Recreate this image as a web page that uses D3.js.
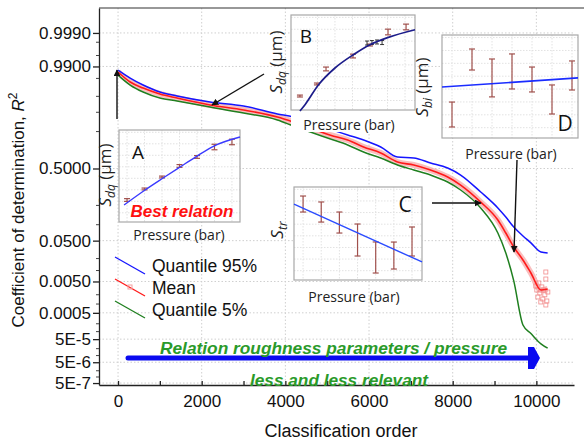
<!DOCTYPE html>
<html>
<head>
<meta charset="utf-8">
<script src="https://cdn.jsdelivr.net/npm/d3@7"></script>
<style>
  body { margin: 0; background: #fff; }
  svg { display: block; }
</style>
</head>
<body>
<div id="chart"></div>
<script>
// main chart: R2 vs classification order (probit scale on y)
var orders = [0, 290, 600, 1000, 1410, 2200, 3000, 3810, 4190, 4600, 5080, 5490, 5870, 6280, 6680, 7070, 7470, 7880, 8190, 8670, 9080, 9270, 9460, 9680, 9870, 10110, 10270];
var q95 = [0.9876, 0.9804, 0.9715, 0.9594, 0.9508, 0.9353, 0.9229, 0.8931, 0.8798, 0.850, 0.813, 0.778, 0.742, 0.688, 0.603, 0.595, 0.550, 0.504, 0.441, 0.296, 0.184, 0.134, 0.091, 0.062, 0.045, 0.0285, 0.027];
var meanR2 = [0.9861, 0.9757, 0.9667, 0.9553, 0.946, 0.9262, 0.9089, 0.8798, 0.8554, 0.822, 0.776, 0.742, 0.688, 0.638, 0.559, 0.532, 0.486, 0.423, 0.353, 0.222, 0.120, 0.0707, 0.0367, 0.0185, 0.0086, 0.0028, 0.0030];
var q05 = [0.9834, 0.9715, 0.9594, 0.946, 0.9381, 0.9195, 0.897, 0.8656, 0.834, 0.797, 0.7495, 0.704, 0.6466, 0.5945, 0.532, 0.486, 0.441, 0.379, 0.312, 0.184, 0.0707, 0.027, 0.0052, 0.00018, 8.4e-5, 3.2e-5, 2.1e-5];
// scattered mean markers at the tail
var tailOrder = [10227, 10227, 10059, 10131, 10011, 10083, 10203, 10035, 10155, 10251, 10107, 10227, 9987, 10179, 10275];
var tailR2 = [0.00914, 0.00587, 0.00453, 0.00347, 0.0028, 0.00226, 0.00199, 0.0017, 0.00146, 0.00126, 0.00117, 0.00093, 0.0037, 0.0028, 0.00243];

var xTicks = [0, 2000, 4000, 6000, 8000, 10000];
var yTicks = [0.999, 0.99, 0.5, 0.05, 0.005, 0.0005, 5e-5, 5e-6, 5e-7];
var yTickLabels = ["0.9990", "0.9900", "0.5000", "0.0500", "0.0050", "0.0005", "5E-5", "5E-6", "5E-7"];
var yMinor = [0.998, 0.995, 0.98, 0.95, 0.9, 0.8, 0.2, 0.1, 0.02, 0.01, 0.002, 0.001, 2e-4, 1e-4, 2e-5, 1e-5, 2e-6, 1e-6];

// insets: S parameter vs pressure (arbitrary units 0-10)
var pressA = [1, 2, 3, 4, 5, 6, 7];
var sdqA = [2.39, 3.59, 4.89, 6.09, 7.07, 8.15, 8.70];
var errA = [0.15, 0.1, 0.1, 0.15, 0.15, 0.3, 0.3];
var fitPA = [0.83, 2.03, 3.06, 4.03, 5.0, 5.97, 7.46];
var fitVA = [1.85, 3.48, 4.78, 5.98, 7.17, 8.26, 9.24];

var pressB = [1, 1.97, 2.49, 4.03, 5, 6.03, 7.06];
var sdqB = [1.47, 2.74, 4.32, 5.68, 6.84, 8.21, 8.74];
var errB = [0.1, 0.1, 0.2, 0.2, 0.1, 0.3, 0.3];
var fitPB = [1.0, 1.29, 2.05, 3.0, 4.05, 5.0, 6.05, 7.57];
var fitVB = [-0.1, 0.56, 2.63, 4.42, 5.82, 6.87, 7.65, 8.45];
var clusterPB = [4.83, 5.11, 5.4, 5.69];
var clusterVB = [7.05, 7.1, 7.16, 7.1];

var pressC = [1, 2, 3, 4, 5, 6, 7];
var strC = [8.17, 7.31, 6.18, 4.30, 2.42, 2.63, 4.14];
var errC = [0.86, 1.08, 1.13, 1.72, 1.67, 1.45, 1.56];
var fitPC = [0.5, 7.55];
var fitVC = [8.17, 1.94];

var pressD = [1, 2, 3, 4, 5, 6, 7];
var sbiD = [2.28, 7.62, 5.83, 6.46, 5.68, 3.74, 6.07];
var errD = [1.21, 1.02, 1.84, 1.70, 1.21, 1.41, 1.41];
var fitPD = [0.5, 7.3];
var fitVD = [4.95, 5.83];

// inverse normal cdf (Acklam)
function probit(p) {
	var a = [-3.969683028665376e+01, 2.209460984245205e+02, -2.759285104469687e+02, 1.383577518672690e+02, -3.066479806614716e+01, 2.506628277459239e+00];
	var b = [-5.447609879822406e+01, 1.615858368580409e+02, -1.556989798598866e+02, 6.680131188771972e+01, -1.328068155288572e+01];
	var c = [-7.784894002430293e-03, -3.223964580411365e-01, -2.400758277161838e+00, -2.549732539343734e+00, 4.374664141464968e+00, 2.938163982698783e+00];
	var d = [7.784695709041462e-03, 3.224671290700398e-01, 2.445134137142996e+00, 3.754408661907416e+00];
	var pl = 0.02425, q, r;
	if (p < pl) {
		q = Math.sqrt(-2 * Math.log(p));
		return (((((c[0]*q+c[1])*q+c[2])*q+c[3])*q+c[4])*q+c[5]) / ((((d[0]*q+d[1])*q+d[2])*q+d[3])*q+1);
	}
	if (p <= 1 - pl) {
		q = p - 0.5; r = q * q;
		return (((((a[0]*r+a[1])*r+a[2])*r+a[3])*r+a[4])*r+a[5])*q / (((((b[0]*r+b[1])*r+b[2])*r+b[3])*r+b[4])*r+1);
	}
	q = Math.sqrt(-2 * Math.log(1 - p));
	return -(((((c[0]*q+c[1])*q+c[2])*q+c[3])*q+c[4])*q+c[5]) / ((((d[0]*q+d[1])*q+d[2])*q+d[3])*q+1);
}

var W = 584, H = 443;
var pLeft = 99, pRight = 574, pTop = 8, pBottom = 385;
var mainFont = "'Liberation Sans', Arial, sans-serif";
var insetFont = "'Open Sans', sans-serif";

var svg = d3.select("#chart").append("svg").attr("width", W).attr("height", H);

var x = d3.scaleLinear().domain([-455, 10900]).range([pLeft, pRight]);
var yz = d3.scaleLinear().domain([-4.936, 3.659]).range([pBottom, pTop]);
var y = function (p) { return yz(probit(p)); };

// grid
var grid = svg.append("g").attr("stroke", "#cfcfcf").attr("stroke-dasharray", "1.5,2");
grid.selectAll(".vg").data(xTicks).enter().append("line")
	.attr("x1", function (d) { return x(d); }).attr("x2", function (d) { return x(d); })
	.attr("y1", pTop).attr("y2", pBottom);
grid.selectAll(".hg").data(yTicks).enter().append("line")
	.attr("x1", pLeft).attr("x2", pRight)
	.attr("y1", function (d) { return y(d); }).attr("y2", function (d) { return y(d); });

// axes
var xAxis = svg.append("g").attr("transform", "translate(0," + pBottom + ")")
	.call(d3.axisBottom(x).tickValues(d3.range(0, 11000, 1000)).tickSize(-4).tickSizeOuter(0).tickPadding(10)
		.tickFormat(function (d) { return d % 2000 === 0 ? d : ""; }));
var yAxis = svg.append("g").attr("transform", "translate(" + pLeft + ",0)")
	.call(d3.axisLeft(yz).tickValues(yTicks.map(probit)).tickSize(6).tickSizeOuter(0).tickPadding(2)
		.tickFormat(function (d, i) { return yTickLabels[i]; }));
[xAxis, yAxis].forEach(function (g) {
	g.selectAll("text").attr("font-family", mainFont).attr("font-size", 17).attr("fill", "#111");
	g.selectAll("line, path").attr("stroke", "#222").attr("stroke-width", 1.3);
});
svg.append("g").selectAll("line").data(yMinor).enter().append("line")
	.attr("x1", pLeft - 3).attr("x2", pLeft)
	.attr("y1", function (d) { return y(d); }).attr("y2", function (d) { return y(d); })
	.attr("stroke", "#444");
svg.append("line").attr("x1", pLeft).attr("x2", W).attr("y1", pTop).attr("y2", pTop).attr("stroke", "#333").attr("stroke-width", 1.2);

svg.append("text").attr("x", 341).attr("y", 437).attr("text-anchor", "middle")
	.attr("font-family", mainFont).attr("font-size", 18).attr("fill", "#111").text("Classification order");
var yt = svg.append("text").attr("transform", "translate(24,210) rotate(-90)").attr("text-anchor", "middle")
	.attr("font-family", mainFont).attr("font-size", 17).attr("fill", "#111");
yt.append("tspan").text("Coefficient of determination, ");
yt.append("tspan").attr("font-style", "italic").text("R");
yt.append("tspan").attr("dy", -7).attr("font-size", 12).text("2");

// curves
var line = d3.line().x(function (d) { return x(d[0]); }).y(function (d) { return y(d[1]); }).curve(d3.curveMonotoneX);
var curves = svg.append("g").attr("fill", "none");
curves.append("path").datum(d3.zip(orders, meanR2)).attr("d", line)
	.attr("stroke", "#f7a8a8").attr("stroke-width", 6).attr("opacity", 0.75);
curves.selectAll("rect").data(d3.zip(tailOrder, tailR2)).enter().append("rect")
	.attr("x", function (d) { return x(d[0]) - 2; }).attr("y", function (d) { return y(d[1]) - 2; })
	.attr("width", 4).attr("height", 4).attr("stroke", "#f28c8c").attr("stroke-width", 0.8);
curves.append("path").datum(d3.zip(orders, q95)).attr("d", line).attr("stroke", "#1515ff").attr("stroke-width", 1.5);
curves.append("path").datum(d3.zip(orders, q05)).attr("d", line).attr("stroke", "#1f7f1f").attr("stroke-width", 1.5);
curves.append("path").datum(d3.zip(orders, meanR2)).attr("d", line).attr("stroke", "#ff1a1a").attr("stroke-width", 1.6);

// legend
var legend = [["Quantile 95%", "#1515ff"], ["Mean", "#ff1a1a"], ["Quantile 5%", "#1f7f1f"]];
var lg = svg.append("g");
legend.forEach(function (l, i) {
	var yy = 257 + i * 22;
	lg.append("line").attr("x1", 115).attr("y1", yy).attr("x2", 145).attr("y2", yy + 17)
		.attr("stroke", l[1]).attr("stroke-width", 1.3);
	if (i === 1) lg.append("rect").attr("x", 128).attr("y", yy + 6).attr("width", 4).attr("height", 4)
		.attr("fill", "none").attr("stroke", "#f4a0a0");
	lg.append("text").attr("x", 152).attr("y", yy + 15).attr("font-family", mainFont).attr("font-size", 17.5)
		.attr("fill", "#111").text(l[0]);
});

// insets
function inset(o) {
	var g = svg.append("g");
	g.append("rect").attr("x", o.bx).attr("y", o.by).attr("width", o.bw).attr("height", o.bh + (o.padB || 0)).attr("fill", "#fff");
	var ix = d3.scaleLinear().domain(o.pDom).range([o.bx, o.bx + o.bw]);
	var iy = d3.scaleLinear().domain([0, 10]).range([o.by + o.bh, o.by]);
	var gg = g.append("g").attr("stroke", "#e2e2e2").attr("stroke-dasharray", "1.5,1.5");
	d3.range(1, 10, 1.25).forEach(function (v) {
		gg.append("line").attr("x1", o.bx).attr("x2", o.bx + o.bw).attr("y1", iy(v)).attr("y2", iy(v));
	});
	o.grid.forEach(function (p) {
		gg.append("line").attr("x1", ix(p)).attr("x2", ix(p)).attr("y1", o.by).attr("y2", o.by + o.bh);
	});
	g.append("rect").attr("x", o.bx).attr("y", o.by).attr("width", o.bw).attr("height", o.bh)
		.attr("fill", "none").attr("stroke", "#a8a8a8").attr("stroke-width", 1.2);
	var eb = g.append("g").attr("stroke", "#a0504c").attr("stroke-width", 1.2);
	o.press.forEach(function (p, i) {
		var cx = ix(p), y1 = iy(o.vals[i] + o.err[i]), y2 = iy(o.vals[i] - o.err[i]);
		eb.append("line").attr("x1", cx).attr("x2", cx).attr("y1", y1).attr("y2", y2);
		eb.append("line").attr("x1", cx - 3).attr("x2", cx + 3).attr("y1", y1).attr("y2", y1);
		eb.append("line").attr("x1", cx - 3).attr("x2", cx + 3).attr("y1", y2).attr("y2", y2);
	});
	if (o.cluster) {
		o.cluster[0].forEach(function (p, i) {
			var cx = ix(p), cy = iy(o.cluster[1][i]);
			g.append("path").attr("d", "M" + (cx - 2) + "," + (cy - 2) + "h4M" + (cx - 2) + "," + (cy + 2) + "h4M" + cx + "," + (cy - 2) + "v4")
				.attr("stroke", "#222").attr("stroke-width", 0.9);
		});
	}
	var fl = d3.line().x(function (d) { return ix(d[0]); }).y(function (d) { return iy(d[1]); }).curve(d3.curveMonotoneX);
	g.append("path").datum(d3.zip(o.fitP, o.fitV)).attr("d", fl).attr("fill", "none")
		.attr("stroke", o.fitColor).attr("stroke-width", o.fitWidth || 1.4);
	g.append("text").attr("x", o.letter[0]).attr("y", o.letter[1]).attr("text-anchor", "middle")
		.attr("font-family", insetFont).attr("font-size", o.letter[3]).attr("fill", "#111").text(o.letter[2]);
	g.append("text").attr("x", o.xl[0]).attr("y", o.xl[1]).attr("text-anchor", "middle")
		.attr("font-family", insetFont).attr("font-size", 14).attr("fill", "#222").text("Pressure (bar)");
	var t = g.append("text").attr("transform", "translate(" + o.yl[0] + "," + o.yl[1] + ") rotate(-90)")
		.attr("text-anchor", "middle").attr("font-family", insetFont).attr("font-size", 17).attr("fill", "#222");
	t.append("tspan").attr("font-style", "italic").text("S");
	t.append("tspan").attr("font-style", "italic").attr("font-size", 12).attr("dy", 4).text(o.yl[2]);
	if (o.yl[3]) t.append("tspan").attr("dy", -4).text(o.yl[3]);
	return g;
}

var gA = inset({ bx: 119, by: 130, bw: 121, bh: 92, pDom: [0.54, 7.46], grid: pressA,
	press: pressA, vals: sdqA, err: errA, fitP: fitPA, fitV: fitVA, fitColor: "#3a3aff",
	letter: [138, 159, "A", 19], xl: [179, 240], yl: [111, 175, "dq", " (\u00b5m)"] });
gA.append("text").attr("x", 182).attr("y", 217).attr("text-anchor", "middle")
	.attr("font-family", mainFont).attr("font-size", 16).attr("font-weight", "bold").attr("font-style", "italic")
	.attr("fill", "#ff1010").attr("textLength", 103).attr("lengthAdjust", "spacingAndGlyphs").text("Best relation");

inset({ bx: 291, by: 15, bw: 124, bh: 95, padB: 22, pDom: [0.49, 7.57], grid: [2, 3, 4, 5, 6, 7],
	press: pressB, vals: sdqB, err: errB, fitP: fitPB, fitV: fitVB, fitColor: "#1c1c8a", fitWidth: 1.7,
	cluster: [clusterPB, clusterVB],
	letter: [306, 43, "B", 19], xl: [349, 130], yl: [282, 62, "dq", " (\u00b5m)"] });

inset({ bx: 294, by: 187, bw: 128, bh: 93, pDom: [0.5, 7.55], grid: pressC,
	press: pressC, vals: strC, err: errC, fitP: fitPC, fitV: fitVC, fitColor: "#2a4bff",
	letter: [405, 212, "C", 21], xl: [354, 302], yl: [283, 230, "tr"] });

inset({ bx: 442, by: 35, bw: 136, bh: 103, pDom: [0.5, 7.3], grid: pressD,
	press: pressD, vals: sbiD, err: errD, fitP: fitPD, fitV: fitVD, fitColor: "#1a2cff", fitWidth: 1.7,
	letter: [565, 131, "D", 21], xl: [511, 159], yl: [428, 87, "bi", " (\u00b5m)"] });

// annotation arrows
svg.append("defs").append("marker").attr("id", "ah").attr("viewBox", "0 0 10 10")
	.attr("refX", 9).attr("refY", 5).attr("markerWidth", 7).attr("markerHeight", 7).attr("orient", "auto")
	.attr("markerUnits", "userSpaceOnUse")
	.append("path").attr("d", "M0,0L10,5L0,10z").attr("fill", "#111");
var arrows = [[117, 119, 117, 70], [264, 74, 212, 105], [432, 203, 481, 203], [517, 160, 514, 252]];
svg.append("g").selectAll("line").data(arrows).enter().append("line")
	.attr("x1", function (d) { return d[0]; }).attr("y1", function (d) { return d[1]; })
	.attr("x2", function (d) { return d[2]; }).attr("y2", function (d) { return d[3]; })
	.attr("stroke", "#111").attr("stroke-width", 1.4).attr("marker-end", "url(#ah)");

// big blue arrow and its text
svg.append("line").attr("x1", 128).attr("x2", 531).attr("y1", 358).attr("y2", 358)
	.attr("stroke", "#0a0af0").attr("stroke-width", 5).attr("stroke-linecap", "round");
svg.append("path").attr("d", "M528,347L534,347L540,358L534,369L528,369Z").attr("fill", "#0a0af0");
svg.append("text").attr("x", 160).attr("y", 354).attr("font-family", mainFont).attr("font-size", 16)
	.attr("font-weight", "bold").attr("font-style", "italic").attr("fill", "#2a9a2a")
	.attr("textLength", 347).attr("lengthAdjust", "spacingAndGlyphs").text("Relation roughness parameters / pressure");
svg.append("text").attr("x", 250).attr("y", 386).attr("font-family", mainFont).attr("font-size", 16)
	.attr("font-weight", "bold").attr("font-style", "italic").attr("fill", "#2a9a2a")
	.attr("textLength", 178).attr("lengthAdjust", "spacingAndGlyphs").text("less and less relevant");
</script>
</body>
</html>
